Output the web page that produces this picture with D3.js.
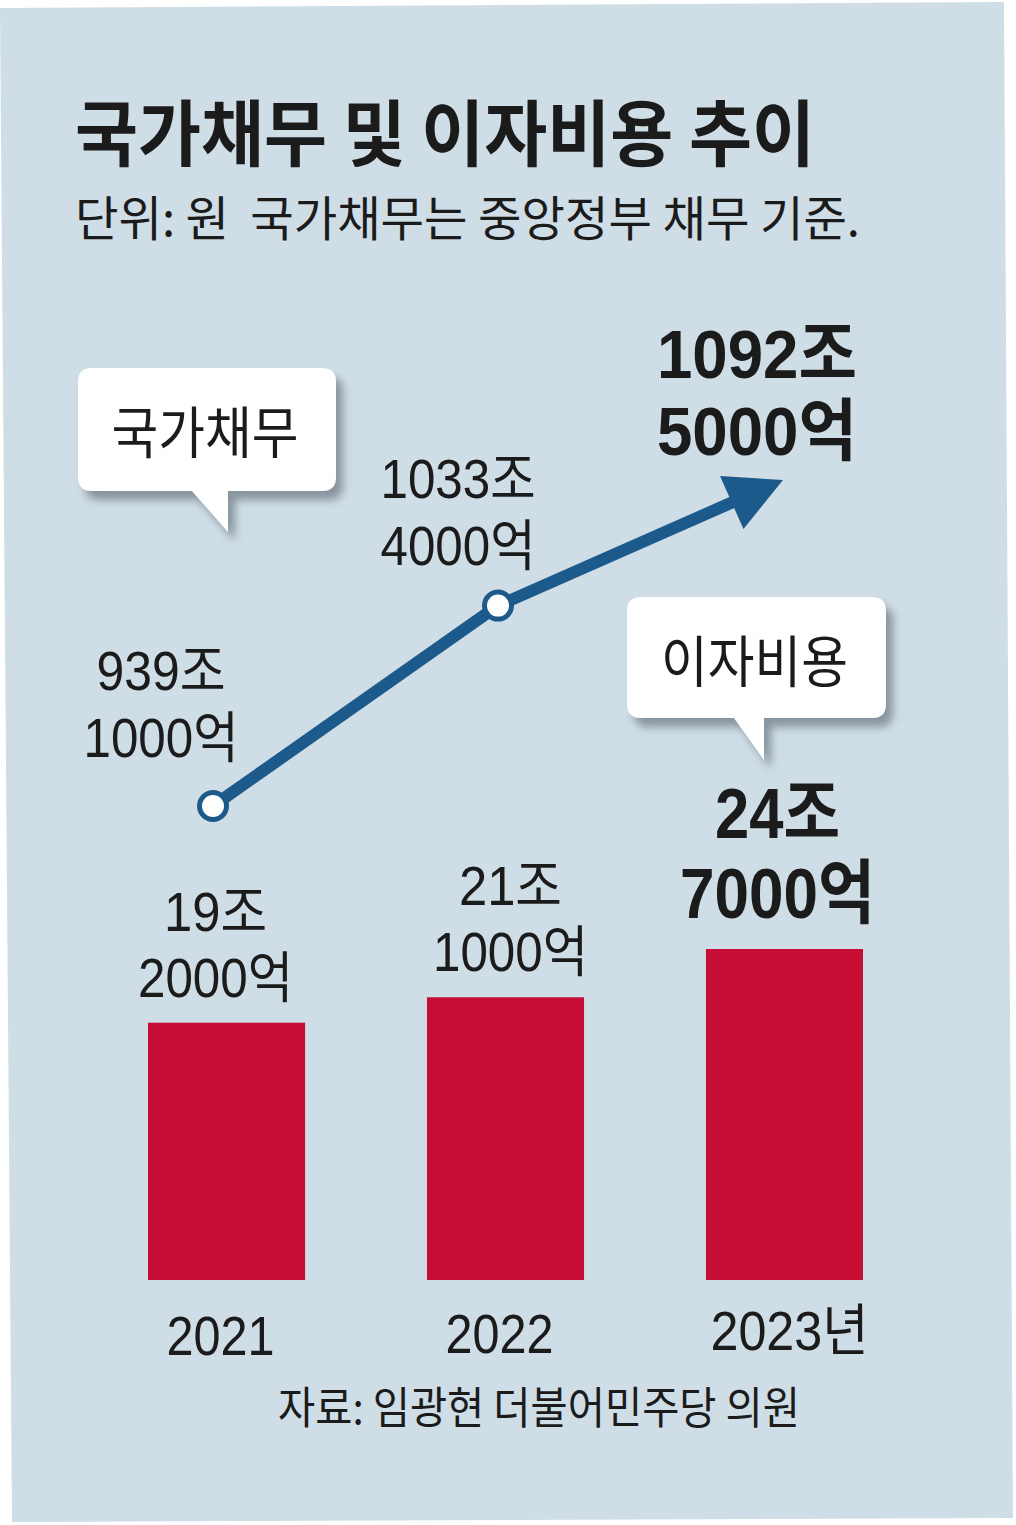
<!DOCTYPE html>
<html>
  <head>
    <meta charset="UTF-8">
    <script src="https://d3js.org/d3.v7.min.js"></script>
    <title>국가채무 및 이자비용 추이</title>
    <style>
      body { margin: 0; background: #fff; }
      svg text { font-family: "Noto Sans CJK KR", "Noto Sans", sans-serif; fill: #1b1b1b; white-space: pre; }
      svg text.num { font-family: "Liberation Sans Narrow", "Liberation Sans", "Noto Sans CJK KR", sans-serif; }
    </style>
  </head>
  <body>
    <svg class="chart"></svg>
    <script type="text/javascript">

      // data (조 원)
      var years = ["2021", "2022", "2023"],
          yearLabels = ["2021", "2022", "2023년"],
          debt = [939.1, 1033.4, 1092.5],
          debtLabels = [["939조", "1000억"], ["1033조", "4000억"], ["1092조", "5000억"]],
          interest = [19.2, 21.1, 24.7],
          interestLabels = [["19조", "2000억"], ["21조", "1000억"], ["24조", "7000억"]];

      var width = 1016,
          height = 1525,
          blue = "#1c5a8c",
          red = "#c50d36";

      var chart = d3.select(".chart")
          .attr("width", width)
          .attr("height", height);

      var defs = chart.append("defs");
      defs.append("filter")
          .attr("id", "shadow")
          .attr("x", "-10%").attr("y", "-10%")
          .attr("width", "130%").attr("height", "140%")
        .append("feDropShadow")
          .attr("dx", 7).attr("dy", 9)
          .attr("stdDeviation", 4)
          .attr("flood-color", "#6f7d88")
          .attr("flood-opacity", 0.75);

      // scanned panel, slightly skewed
      chart.append("polygon")
          .attr("points", "0,8 1004,2 1013,1518 12,1522")
          .attr("fill", "#cfdde6");

      // condensed look: squeeze text to a width
      function textWidth(s, dw, hw) {
        var n = 0;
        for (var i = 0; i < s.length; i++) n += /[0-9]/.test(s[i]) ? dw : hw;
        return n;
      }

      function label(g, s, x, y, size, weight, w, cls) {
        return g.append("text")
            .attr("class", cls || null)
            .attr("x", x)
            .attr("y", y)
            .attr("text-anchor", "middle")
            .attr("font-size", size)
            .attr("font-weight", weight)
            .attr("textLength", w)
            .attr("lengthAdjust", "spacingAndGlyphs")
            .text(s);
      }

      // title
      chart.append("text")
          .attr("x", 75).attr("y", 160)
          .attr("font-size", 72).attr("font-weight", 700)
          .attr("textLength", 740).attr("lengthAdjust", "spacingAndGlyphs")
          .text("국가채무 및 이자비용 추이");

      chart.append("text")
          .attr("x", 75).attr("y", 236)
          .attr("font-size", 48).attr("font-weight", 400)
          .attr("fill", "#2a2a2a")
          .attr("textLength", 785).attr("lengthAdjust", "spacingAndGlyphs")
          .text("단위: 원  국가채무는 중앙정부 채무 기준.");

      // scales
      var xBar = d3.scaleBand().domain(years).range([148, 863]).paddingInner(0.437),
          yBar = d3.scaleLinear().domain([0, 25]).range([1280, 945]),
          xLine = d3.scalePoint().domain(years).range([213, 783]),
          yLine = d3.scaleLinear().domain([939.1, 1092.5]).range([806, 480]);

      // bars
      var bars = chart.append("g").attr("class", "bars");
      bars.selectAll("rect")
          .data(interest)
          .enter().append("rect")
          .attr("x", function(d, i) { return xBar(years[i]); })
          .attr("y", function(d) { return yBar(d); })
          .attr("width", xBar.bandwidth())
          .attr("height", function(d) { return yBar(0) - yBar(d); })
          .attr("fill", red);

      var barDx = [-11, 5, -7],
          barGap = [26, 26, 31];
      interestLabels.forEach(function(l, i) {
        var cx = xBar(years[i]) + xBar.bandwidth() / 2 + barDx[i],
            y2 = yBar(interest[i]) - barGap[i],
            last = i === interestLabels.length - 1,
            size = last ? 70 : 55,
            lh = last ? 80 : 66,
            dw = last ? 35 : 26,
            hw = last ? 55 : 51;
        label(bars, l[0], cx, y2 - lh, size, last ? 700 : 400, textWidth(l[0], dw, hw), "num");
        label(bars, l[1], cx, y2, size, last ? 700 : 400, textWidth(l[1], dw, hw), "num");
      });

      // year axis labels
      chart.append("g").selectAll("text")
          .data(yearLabels)
          .enter().append("text")
          .attr("class", "num")
          .attr("x", function(d, i) { return xBar(years[i]) + xBar.bandwidth() / 2 + [-6, -6, 5][i]; })
          .attr("y", function(d, i) { return [1355, 1353, 1350][i]; })
          .attr("text-anchor", "middle")
          .attr("font-size", 56)
          .attr("textLength", function(d) { return textWidth(d, 27, 50); })
          .attr("lengthAdjust", "spacingAndGlyphs")
          .text(function(d) { return d; });

      // debt line with arrow head
      var pts = debt.map(function(d, i) { return [xLine(years[i]), yLine(d)]; }),
          tip = pts[pts.length - 1],
          prev = pts[pts.length - 2],
          dx = tip[0] - prev[0], dy = tip[1] - prev[1],
          len = Math.sqrt(dx * dx + dy * dy),
          ux = dx / len, uy = dy / len,
          headLen = 56, headHalf = 29,
          base = [tip[0] - ux * headLen, tip[1] - uy * headLen],
          lineEnd = [tip[0] - ux * headLen * 0.7, tip[1] - uy * headLen * 0.7];

      var line = chart.append("g").attr("class", "line");
      line.append("path")
          .attr("d", d3.line()(pts.slice(0, -1).concat([lineEnd])))
          .attr("fill", "none")
          .attr("stroke", blue)
          .attr("stroke-width", 12);

      line.append("polygon")
          .attr("points", [
            tip,
            [base[0] - uy * headHalf, base[1] + ux * headHalf],
            [base[0] + uy * headHalf, base[1] - ux * headHalf]
          ].map(function(p) { return p.join(","); }).join(" "))
          .attr("fill", blue);

      line.selectAll("circle")
          .data(pts.slice(0, -1))
          .enter().append("circle")
          .attr("cx", function(d) { return d[0]; })
          .attr("cy", function(d) { return d[1]; })
          .attr("r", 13.5)
          .attr("fill", "#fff")
          .attr("stroke", blue)
          .attr("stroke-width", 5);

      var debtDx = [-52, -40, -26],
          debtGap = [49, 41, 25];
      debtLabels.forEach(function(l, i) {
        var cx = pts[i][0] + debtDx[i],
            y2 = pts[i][1] - debtGap[i],
            last = i === debtLabels.length - 1,
            size = last ? 68 : 55,
            lh = last ? 77 : 67,
            dw = last ? 36 : 26,
            hw = last ? 56 : 51;
        label(line, l[0], cx, y2 - lh, size, last ? 700 : 400, textWidth(l[0], dw, hw), "num");
        label(line, l[1], cx, y2, size, last ? 700 : 400, textWidth(l[1], dw, hw), "num");
      });

      // speech-bubble legends
      function bubble(x0, y0, x1, y1, r, tl, tr, tipX, tipY) {
        return "M" + (x0 + r) + "," + y0 +
          "H" + (x1 - r) + "Q" + x1 + "," + y0 + " " + x1 + "," + (y0 + r) +
          "V" + (y1 - r) + "Q" + x1 + "," + y1 + " " + (x1 - r) + "," + y1 +
          "H" + tr + "L" + tipX + "," + tipY + "L" + tl + "," + y1 +
          "H" + (x0 + r) + "Q" + x0 + "," + y1 + " " + x0 + "," + (y1 - r) +
          "V" + (y0 + r) + "Q" + x0 + "," + y0 + " " + (x0 + r) + "," + y0 + "Z";
      }

      var legends = [
        {text: "국가채무", box: [78, 368, 336, 491], tail: [192, 228, 228, 532]},
        {text: "이자비용", box: [627, 597, 886, 718], tail: [734, 764, 764, 760]}
      ];
      var leg = chart.append("g").attr("class", "legend");
      legends.forEach(function(d) {
        leg.append("path")
            .attr("d", bubble(d.box[0], d.box[1], d.box[2], d.box[3], 14,
                              d.tail[0], d.tail[1], d.tail[2], d.tail[3]))
            .attr("fill", "#fff")
            .attr("filter", "url(#shadow)");
        label(leg, d.text, (d.box[0] + d.box[2]) / 2 - 2, d.box[1] + 85, 56, 400, 187);
      });

      // source
      chart.append("text")
          .attr("x", 278).attr("y", 1424)
          .attr("font-size", 44)
          .attr("fill", "#333")
          .attr("textLength", 522).attr("lengthAdjust", "spacingAndGlyphs")
          .text("자료: 임광현 더불어민주당 의원");

    </script>
  </body>
</html>
